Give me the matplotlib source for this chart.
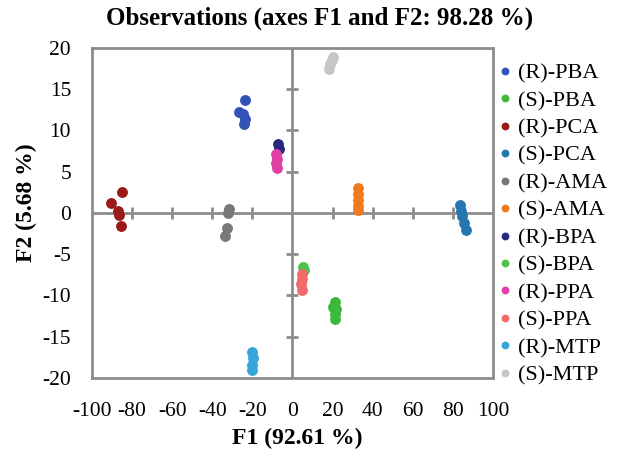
import matplotlib
matplotlib.use("Agg")
import matplotlib.pyplot as plt
import numpy as np

# PCA scores
labels = ['(R)-PBA', '(S)-PBA', '(R)-PCA', '(S)-PCA', '(R)-AMA', '(S)-AMA',
          '(R)-BPA', '(S)-BPA', '(R)-PPA', '(S)-PPA', '(R)-MTP', '(S)-MTP']
colors = ['#3352B8', '#3CB83C', '#9A1A1A', '#2477AE', '#787878', '#F07A1E',
          '#28287F', '#4DC24D', '#E040A6', '#F06A68', '#34A6DA', '#C6C6C6']

r_pba_f1 = [-23.5, -26.8, -24.5, -23.6, -24.2]
r_pba_f2 = [13.7, 12.2, 12.0, 11.4, 10.8]
s_pba_f1 = [21.0, 20.2, 21.6, 21.0, 21.3]
s_pba_f2 = [-10.8, -11.4, -11.7, -12.2, -12.8]
r_pca_f1 = [-85.0, -90.5, -87.0, -86.5, -85.5]
r_pca_f2 = [2.6, 1.2, 0.2, -0.2, -1.6]
s_pca_f1 = [83.5, 84.0, 84.6, 85.4, 86.6]
s_pca_f2 = [1.0, 0.2, -0.4, -1.2, -2.1]
r_ama_f1 = [-31.5, -32.0, -32.7, -33.4]
r_ama_f2 = [0.5, 0.0, -1.8, -2.8]
s_ama_f1 = [32.8, 32.5, 32.8, 32.5, 32.7]
s_ama_f2 = [3.0, 2.3, 1.6, 0.9, 0.3]
r_bpa_f1 = [-7.4, -6.6]
r_bpa_f2 = [8.4, 7.7]
s_bpa_f1 = [5.2, 5.6]
s_bpa_f2 = [-6.6, -6.9]
r_ppa_f1 = [-8.0, -7.8, -8.1, -7.7]
r_ppa_f2 = [7.2, 6.6, 6.0, 5.5]
s_ppa_f1 = [4.5, 4.8, 4.3, 4.7]
s_ppa_f2 = [-7.4, -8.0, -8.6, -9.3]
r_mtp_f1 = [-20.0, -19.7, -20.0, -20.3]
r_mtp_f2 = [-16.8, -17.6, -18.4, -19.0]
s_mtp_f1 = [20.3, 19.6, 18.8, 18.0]
s_mtp_f2 = [18.9, 18.5, 18.0, 17.5]

f1_all = [r_pba_f1, s_pba_f1, r_pca_f1, s_pca_f1, r_ama_f1, s_ama_f1,
          r_bpa_f1, s_bpa_f1, r_ppa_f1, s_ppa_f1, r_mtp_f1, s_mtp_f1]
f2_all = [r_pba_f2, s_pba_f2, r_pca_f2, s_pca_f2, r_ama_f2, s_ama_f2,
          r_bpa_f2, s_bpa_f2, r_ppa_f2, s_ppa_f2, r_mtp_f2, s_mtp_f2]

xticks = [-100, -80, -60, -40, -20, 0, 20, 40, 60, 80, 100]
yticks = [-20, -15, -10, -5, 0, 5, 10, 15, 20]

plt.rcParams['font.family'] = ['Liberation Serif', 'DejaVu Serif']
plt.rcParams['axes.unicode_minus'] = False
axis_gray = '#8C8C8C'

fig = plt.figure(figsize=(6.21, 4.57), dpi=100)
ax = fig.add_axes([0.148, 0.173, 0.646, 0.722])

for f1, f2, lab, col in zip(f1_all, f2_all, labels, colors):
    ax.plot(f1, f2, 'o', ms=6.8, color=col, label=lab, zorder=3)

# axes through the origin with crossing tick marks
ax.axhline(0, color=axis_gray, lw=2, zorder=1)
ax.axvline(0, color=axis_gray, lw=2, zorder=1)
inner_x = [t for t in xticks if t not in (0, -100, 100)]
inner_y = [t for t in yticks if t not in (0, -20, 20)]
ax.plot(inner_x, np.zeros(len(inner_x)), ls='none', marker='|', ms=9,
        mew=2, color=axis_gray, zorder=1)
ax.plot(np.zeros(len(inner_y)), inner_y, ls='none', marker='_', ms=9,
        mew=2, color=axis_gray, zorder=1)

ax.set_xlim(-100, 100)
ax.set_ylim(-20, 20)
ax.set_xticks(xticks)
ax.set_yticks(yticks)
ax.tick_params(length=0, labelsize=15.5)
ax.tick_params(axis='y', pad=15)
ax.tick_params(axis='x', pad=17)
for s in ax.spines.values():
    s.set_color(axis_gray)
    s.set_linewidth(2)

ax.set_xlabel('F1 (92.61 %)', fontsize=17, fontweight='bold')
ax.set_ylabel('F2 (5.68 %)', fontsize=17, fontweight='bold')
ax.xaxis.set_label_coords(0.513, -0.152)
ax.yaxis.set_label_coords(-0.137, 0.53)
fig.text(0.515, 0.96, 'Observations (axes F1 and F2: 98.28 %)',
         ha='center', va='center', fontsize=18, fontweight='bold')

handles, labs = ax.get_legend_handles_labels()
leg = fig.legend(handles, labs, loc='upper left', bbox_to_anchor=(0.805, 0.862),
                 frameon=False, fontsize=16, markerscale=0.68,
                 handlelength=0.5, handletextpad=0.3, labelspacing=0.31,
                 borderaxespad=0, borderpad=0)

fig.savefig('out.png', dpi=100)
